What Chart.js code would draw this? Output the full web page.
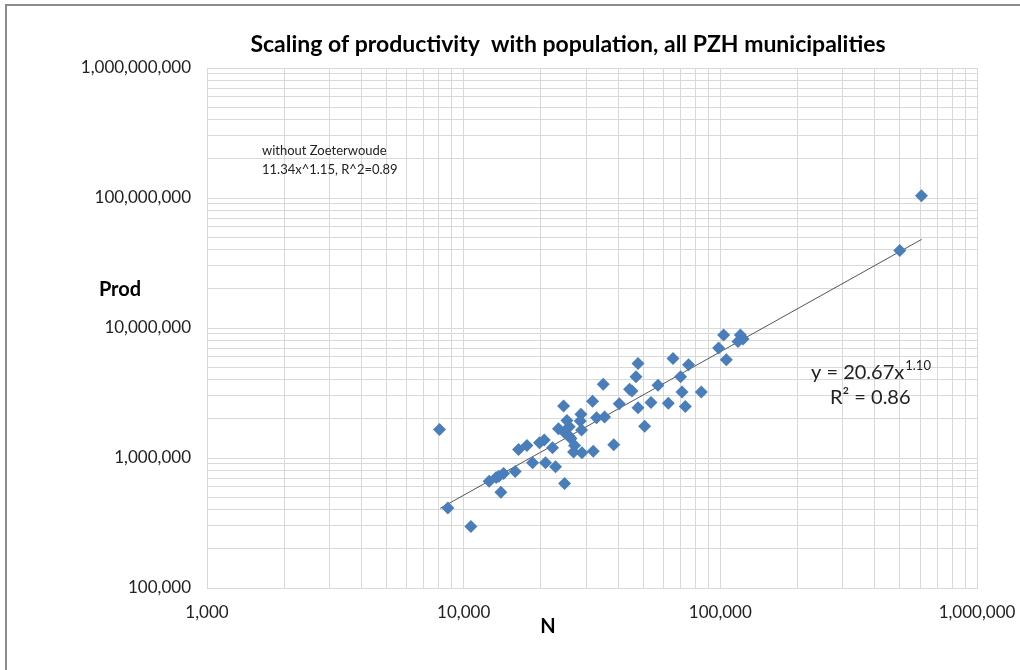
<!DOCTYPE html>
<html lang="en">
<head>
  <meta charset="UTF-8" />
  <title>Scaling of productivity with population</title>
  <script src="https://cdn.jsdelivr.net/npm/chart.js"></script>
  <style>
    body { margin: 0; background: #fff; }
    canvas { display: block; }
  </style>
</head>
<body>
  <canvas id="scaleChart" width="1020" height="670"></canvas>

  <script>
    // population (N) and productivity per municipality
    const popN = [
      8050, 8680, 10670, 12570, 13390, 13720, 14300, 13960, 15880, 16360,
      17640, 18550, 19750, 20600, 20840, 22190, 22800, 23420, 24720, 24500,
      25250, 25780, 24650, 25780, 26180, 27040, 26800, 28890, 28640, 28460,
      28800, 31780, 31980, 32940, 35400, 34990, 38440, 40380, 44300, 45270,
      46930, 47780, 47780, 50700, 53690, 57170, 62700, 65400, 70000, 70900,
      73040, 75220, 84330, 98500, 103000, 105500, 117200, 119700, 122600, 500000,
      607600
    ];
    const prodVals = [
      1.66e6, 4.12e5, 2.97e5, 6.62e5, 7.07e5, 7.24e5, 7.59e5, 5.44e5, 7.87e5, 1.163e6,
      1.249e6, 9.18e5, 1.31e6, 1.373e6, 9.18e5, 1.199e6, 8.55e5, 1.68e6, 6.36e5, 2.51e6,
      1.94e6, 1.74e6, 1.58e6, 1.47e6, 1.41e6, 1.249e6, 1.11e6, 1.097e6, 2.17e6, 1.924e6,
      1.64e6, 2.73e6, 1.129e6, 2.044e6, 2.07e6, 3.70e6, 1.267e6, 2.61e6, 3.38e6, 3.28e6,
      4.21e6, 5.34e6, 2.44e6, 1.751e6, 2.67e6, 3.63e6, 2.64e6, 5.83e6, 4.21e6, 3.22e6,
      2.49e6, 5.21e6, 3.22e6, 7.01e6, 8.83e6, 5.69e6, 7.89e6, 8.83e6, 8.22e6, 3.95e7,
      1.04e8
    ];

    // power trendline end points (y = 20.67x^1.10)
    const trendN = [8100, 608000];
    const trendProd = [4.1e5, 4.8e7];

    const xDecades = [1e3, 1e4, 1e5];
    const yDecades = [1e5, 1e6, 1e7, 1e8];

    function logTicks(decades) {
      const out = [];
      decades.forEach(d => {
        for (let m = 1; m <= 9; m++) out.push({ value: m * d });
      });
      out.push({ value: decades[decades.length - 1] * 10 });
      return out;
    }

    function isPow10(v) {
      const l = Math.log10(v);
      return Math.abs(l - Math.round(l)) < 1e-9;
    }

    const FONT = 'Lato, "Open Sans", sans-serif';

    const decorPlugin = {
      id: 'decor',
      beforeDraw(chart) {
        const ctx = chart.ctx;
        ctx.save();
        ctx.fillStyle = '#fff';
        ctx.fillRect(0, 0, chart.width, chart.height);
        ctx.strokeStyle = '#8c8c8c';
        ctx.lineWidth = 2;
        ctx.beginPath();
        ctx.moveTo(6, 670);
        ctx.lineTo(6, 5);
        ctx.lineTo(1020, 5);
        ctx.stroke();
        ctx.restore();
      },
      afterDraw(chart) {
        const ctx = chart.ctx;
        ctx.save();
        ctx.fillStyle = '#000';
        ctx.textBaseline = 'middle';

        ctx.font = 'bold 23px ' + FONT;
        ctx.textAlign = 'center';
        ctx.fillText('Scaling of productivity  with population, all PZH municipalities', 568, 45);

        ctx.font = 'bold 20px ' + FONT;
        ctx.fillText('Prod', 120, 290);
        ctx.fillText('N', 548, 627);

        ctx.textAlign = 'left';
        ctx.fillStyle = '#222';
        ctx.font = '13px ' + FONT;
        ctx.fillText('without Zoeterwoude', 262, 151);
        ctx.fillText('11.34x^1.15, R^2=0.89', 262, 170);

        // trendline label
        ctx.textBaseline = 'alphabetic';
        ctx.font = '20px ' + FONT;
        const main = 'y = 20.67x';
        ctx.fillText(main, 811, 379);
        const w = ctx.measureText(main).width;
        ctx.font = '13px ' + FONT;
        ctx.fillText('1.10', 811 + w + 1, 370);
        ctx.font = '20px ' + FONT;
        ctx.fillText('R\u00B2 = 0.86', 830, 404);
        ctx.restore();
      }
    };

    const points = popN.map((n, i) => ({ x: n, y: prodVals[i] }));
    const trend = trendN.map((n, i) => ({ x: n, y: trendProd[i] }));

    new Chart(document.getElementById('scaleChart'), {
      type: 'scatter',
      data: {
        datasets: [
          {
            label: 'Prod',
            data: points,
            pointStyle: 'rectRot',
            pointRadius: 6.5,
            pointHoverRadius: 6.5,
            backgroundColor: '#4a7ebb',
            borderColor: '#4a7ebb',
            borderWidth: 0,
            order: 1
          },
          {
            label: 'trend',
            data: trend,
            showLine: true,
            pointRadius: 0,
            borderColor: '#555',
            borderWidth: 1,
            order: 2
          }
        ]
      },
      options: {
        responsive: false,
        animation: false,
        layout: { padding: { top: 68, right: 43, left: 0, bottom: 0 } },
        plugins: {
          legend: { display: false },
          title: { display: false },
          tooltip: { enabled: false }
        },
        scales: {
          x: {
            type: 'logarithmic',
            min: 1000,
            max: 1000000,
            afterBuildTicks: s => { s.ticks = logTicks(xDecades); },
            afterFit: s => { s.height = 82; s.paddingLeft = 0; s.paddingRight = 0; },
            grid: { color: '#d9d9d9', drawTicks: false },
            border: { color: '#d9d9d9' },
            ticks: {
              autoSkip: false,
              maxRotation: 0,
              padding: 14,
              color: '#222',
              font: { family: FONT, size: 17 },
              callback: v => isPow10(v) ? v.toLocaleString('en-US') : ''
            }
          },
          y: {
            type: 'logarithmic',
            min: 100000,
            max: 1000000000,
            afterBuildTicks: s => { s.ticks = logTicks(yDecades); },
            afterFit: s => { s.width = 207; s.paddingTop = 0; s.paddingBottom = 0; },
            grid: { color: '#d9d9d9', drawTicks: false },
            border: { color: '#d9d9d9' },
            ticks: {
              autoSkip: false,
              padding: 16,
              color: '#222',
              font: { family: FONT, size: 17 },
              callback: v => isPow10(v) ? v.toLocaleString('en-US') : ''
            }
          }
        }
      },
      plugins: [decorPlugin]
    });
  </script>
</body>
</html>
